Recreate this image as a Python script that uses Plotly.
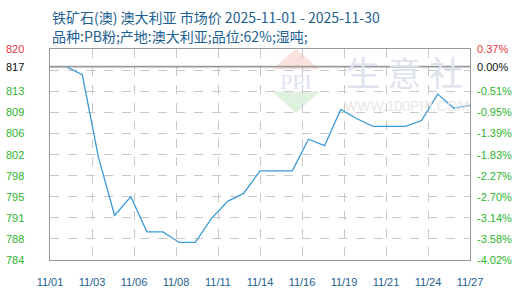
import plotly.graph_objects as go
import pandas as pd

# ---- data ----
dates = [f"2025-11-{d:02d}" for d in range(1, 28)]
prices = [817.0, 817.0, 815.6, 801.5, 791.6, 794.8, 788.8, 788.8, 787.0, 787.0,
          791.1, 794.0, 795.4, 799.2, 799.2, 799.2, 804.6, 803.5, 809.7, 808.1,
          806.8, 806.8, 806.8, 807.8, 812.3, 809.9, 810.4]
base_price = 817.0

y_grid_vals = [784.0, 787.6, 791.2, 794.8, 798.4, 802.0, 805.6, 809.2, 812.8, 816.4, 820.0]
left_label_vals = [820.0, 817.0, 812.8, 809.2, 805.6, 802.0, 798.4, 794.8, 791.2, 787.6, 784.0]
left_label_text = ["820", "817", "813", "809", "806", "802", "798", "795", "791", "788", "784"]
right_label_text = ["0.37%", "0.00%", "-0.51%", "-0.95%", "-1.39%", "-1.83%",
                    "-2.27%", "-2.70%", "-3.14%", "-3.58%", "-4.02%"]
x_tick_text = ["11/01", "11/03", "11/06", "11/08", "11/11", "11/14",
               "11/16", "11/19", "11/21", "11/24", "11/27"]

title_line1 = "铁矿石(澳) 澳大利亚 市场价 2025-11-01 - 2025-11-30"
title_line2 = "品种:PB粉;产地:澳大利亚;品位:62%;湿吨;"

# ---- styles ----
BLUE_TXT = "#1d5f91"
GREEN = "#2db52d"
RED = "#e8383d"
LINE = "#3b9ad8"
GRID = "#c8c8c8"
AXIS = "#9a9a9a"
FONT = "Liberation Sans, Arial, sans-serif"

start = pd.Timestamp("2025-11-01")
end = pd.Timestamp("2025-11-27")
step = (end - start) / 10
x_tick_vals = [start + step * k for k in range(11)]

fig = go.Figure()
fig.add_trace(go.Scatter(
    x=dates, y=prices, mode="lines",
    line=dict(color=LINE, width=1.3),
    hoverinfo="skip", showlegend=False,
))

# base line
fig.add_shape(type="line", xref="paper", x0=0, x1=1, yref="y", y0=base_price, y1=base_price,
              line=dict(color=AXIS, width=1.6), layer="above")

# watermark logo
fig.add_shape(type="path", xref="paper", yref="paper",
              path="M 0.5286 0.9045 L 0.6429 0.9045 L 0.5857 1.0 Z",
              fillcolor="#fbe1dd", line=dict(width=0), layer="below")
fig.add_shape(type="path", xref="paper", yref="paper",
              path="M 0.5286 0.8 L 0.6429 0.8 L 0.5857 0.6955 Z",
              fillcolor="#e0f1e0", line=dict(width=0), layer="below")

annotations = []
annotations.append(dict(text="PPI", xref="paper", yref="paper", x=0.5857, y=0.845,
                        showarrow=False, font=dict(family="Liberation Serif", size=22, color="#dfe4f0"),
                        xanchor="center", yanchor="middle"))
annotations.append(dict(text="生 意 社", xref="paper", yref="paper", x=0.843, y=0.895,
                        showarrow=False, font=dict(family="Noto Sans CJK SC", size=34, color="#dfe3ed"),
                        xanchor="center", yanchor="middle"))
annotations.append(dict(text="WWW.100PPI.COM", xref="paper", yref="paper", x=0.848, y=0.73,
                        showarrow=False, font=dict(family=FONT, size=14, color="#e8e8e8"),
                        xanchor="center", yanchor="middle"))

for i, (v, lt, rt) in enumerate(zip(left_label_vals, left_label_text, right_label_text)):
    col = RED if i == 0 else ("#111111" if i == 1 else GREEN)
    annotations.append(dict(text=lt, xref="paper", yref="y", x=-0.1095, y=v,
                            showarrow=False, xanchor="left", yanchor="middle",
                            font=dict(family=FONT, size=11, color=col)))
    annotations.append(dict(text=rt, xref="paper", yref="y", x=1.012, y=v,
                            showarrow=False, xanchor="left", yanchor="middle",
                            font=dict(family=FONT, size=11, color=col)))

annotations.append(dict(text=title_line1, xref="paper", yref="paper", x=0, y=(269 - 16) / 220,
                        showarrow=False, xanchor="left", yanchor="middle",
                        font=dict(family="Noto Sans CJK SC", size=14, color=BLUE_TXT)))
annotations.append(dict(text=title_line2, xref="paper", yref="paper", x=0, y=(269 - 35) / 220,
                        showarrow=False, xanchor="left", yanchor="middle",
                        font=dict(family="Noto Sans CJK SC", size=14, color=BLUE_TXT)))

fig.update_layout(
    width=520, height=300,
    margin=dict(l=50, r=50, t=49, b=31, pad=0),
    paper_bgcolor="white", plot_bgcolor="white",
    annotations=annotations,
    xaxis=dict(
        type="date", range=[start, end],
        tickvals=x_tick_vals, ticktext=x_tick_text,
        showgrid=True, gridcolor=GRID, griddash="dash", gridwidth=1,
        showline=True, linecolor=AXIS, linewidth=1, mirror=True,
        ticks="", ticklabelstandoff=12,
        tickfont=dict(family=FONT, size=11, color=BLUE_TXT),
        zeroline=False, fixedrange=True,
    ),
    yaxis=dict(
        range=[784, 820], tickvals=y_grid_vals, showticklabels=False,
        showgrid=True, gridcolor=GRID, griddash="dash", gridwidth=1,
        showline=True, linecolor=AXIS, linewidth=1, mirror=True,
        ticks="", zeroline=False, fixedrange=True,
    ),
)

fig.write_html("out.html")
